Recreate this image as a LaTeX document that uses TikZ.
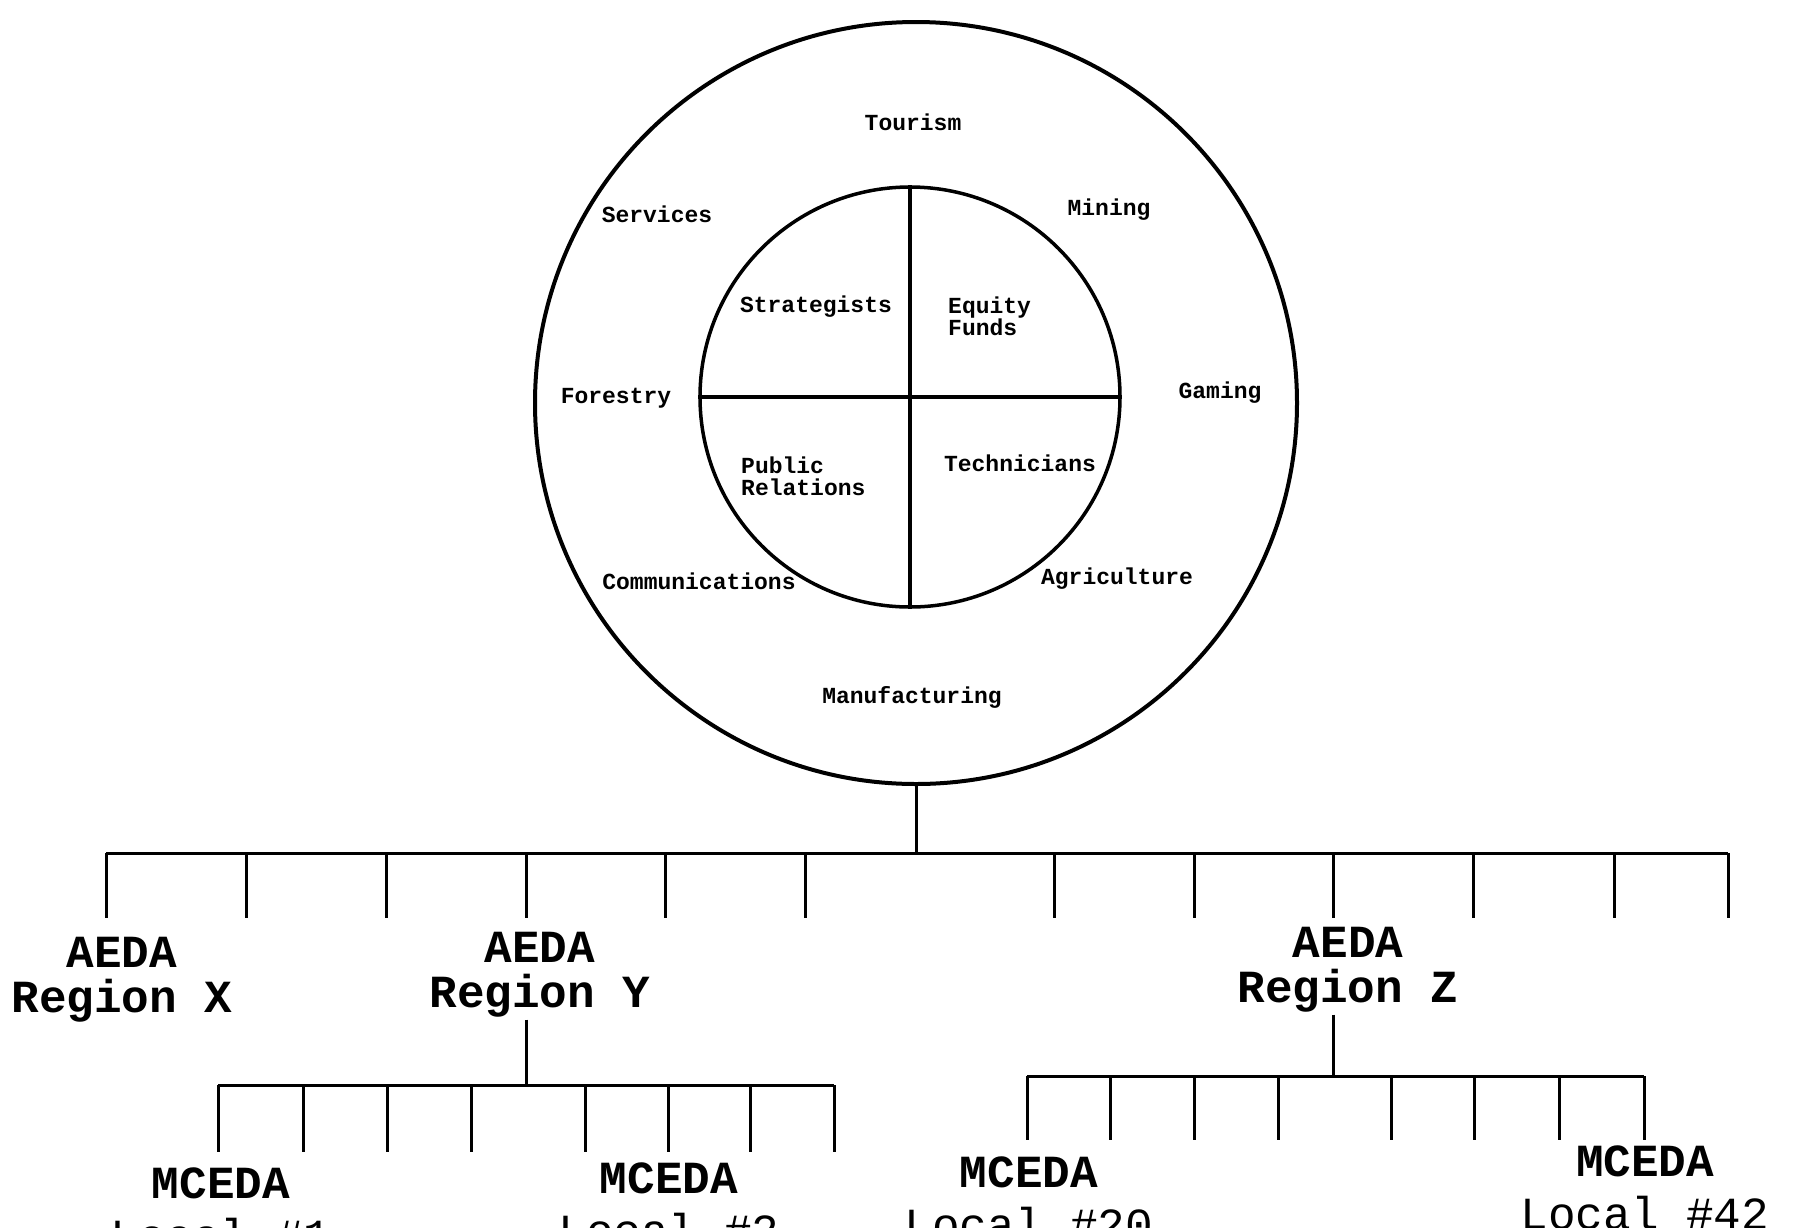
\documentclass[tikz,border=0pt]{standalone}
\usepackage{fontspec}
\setmonofont{Liberation Mono}

\begin{document}
\begin{tikzpicture}[x=1pt,y=-1pt,
		lbl/.style={font=\ttfamily\bfseries\fontsize{23}{22}\selectfont, inner sep=0pt},
		tag/.style={font=\ttfamily\bfseries\fontsize{46}{45}\selectfont, align=center, inner sep=2pt},
		loc/.style={tag, font=\ttfamily\bfseries\fontsize{46}{53}\selectfont},
		tree/.style={line width=3pt}]
		\clip (0,0) rectangle (1802,1227);
		\fill[white] (0,0) rectangle (1802,1227);

		% Kreise
		\node[circle, draw, line width=4pt, minimum size=762pt] (outer) at (916,403) {};
		\node[circle, draw, line width=3.5pt, minimum size=420pt] (inner) at (910,397) {};
		\draw[line width=3.5pt] (inner.north) -- (inner.south);
		\draw[line width=3.5pt] (inner.west) -- (inner.east);

		% Branchen
		\node[lbl] (tourism)  at (913,122) {Tourism};
		\node[lbl] (services) at (657,214) {Services};
		\node[lbl] (mining)   at (1109,210) {Mining};
		\node[lbl] (forestry) at (616,398) {Forestry};
		\node[lbl] (gaming)   at (1220,393) {Gaming};
		\node[lbl] (comm)     at (699,581) {Communications};
		\node[lbl] (agri)     at (1117,579) {Agriculture};
		\node[lbl] (manuf)    at (912,697) {Manufacturing};

		% Quadranten
		\node[lbl] (strat)  at (816,307) {Strategists};
		\node[lbl, anchor=west, align=left] (equity) at (948,316) {Equity\\Funds};
		\node[lbl, anchor=west, align=left] (pubrel) at (741,476) {Public\\Relations};
		\node[lbl] (techn)  at (1020,463) {Technicians};

		% Hauptbalken
		\coordinate (hub)  at (916,853);
		\coordinate (barL) at (106,853);
		\coordinate (barR) at (1728,853);
		\draw[tree] (outer.south) -- (hub);
		\draw[tree] (barL) -- (barR);
		\foreach \x in {106,246,386,526,665,805,1054,1194,1333,1473,1614,1728}
			\draw[tree] (\x,853) -- (\x,918);

		% Regionen
		\node[tag] (regX) at (122,980) {AEDA\\Region X};
		\node[tag] (regY) at (540,975) {AEDA\\Region Y};
		\node[tag] (regZ) at (1348,970) {AEDA\\Region Z};

		% Region Y
		\coordinate (hubY) at (526,1085);
		\draw[tree] (regY.south -| hubY) -- (hubY);
		\draw[tree] (218,1085) -- (834,1085);
		\foreach \x in {218,303,387,471,585,668,750,834}
			\draw[tree] (\x,1085) -- (\x,1152);

		% Region Z
		\coordinate (hubZ) at (1333,1076);
		\draw[tree] (regZ.south -| hubZ) -- (hubZ);
		\draw[tree] (1027,1076) -- (1644,1076);
		\foreach \x in {1027,1110,1194,1278,1391,1474,1559,1644}
			\draw[tree] (\x,1076) -- (\x,1140);

		% Lokale
		\node[loc] (loc1)  at (221,1210) {MCEDA\\\mdseries Local \#1};
		\node[loc] (loc2)  at (669,1205) {MCEDA\\\mdseries Local \#2};
		\node[loc] (loc20) at (1029,1199) {MCEDA\\\mdseries Local \#20};
		\node[loc] (loc42) at (1645,1188) {MCEDA\\\mdseries Local \#42};
	\end{tikzpicture}
\end{document}
